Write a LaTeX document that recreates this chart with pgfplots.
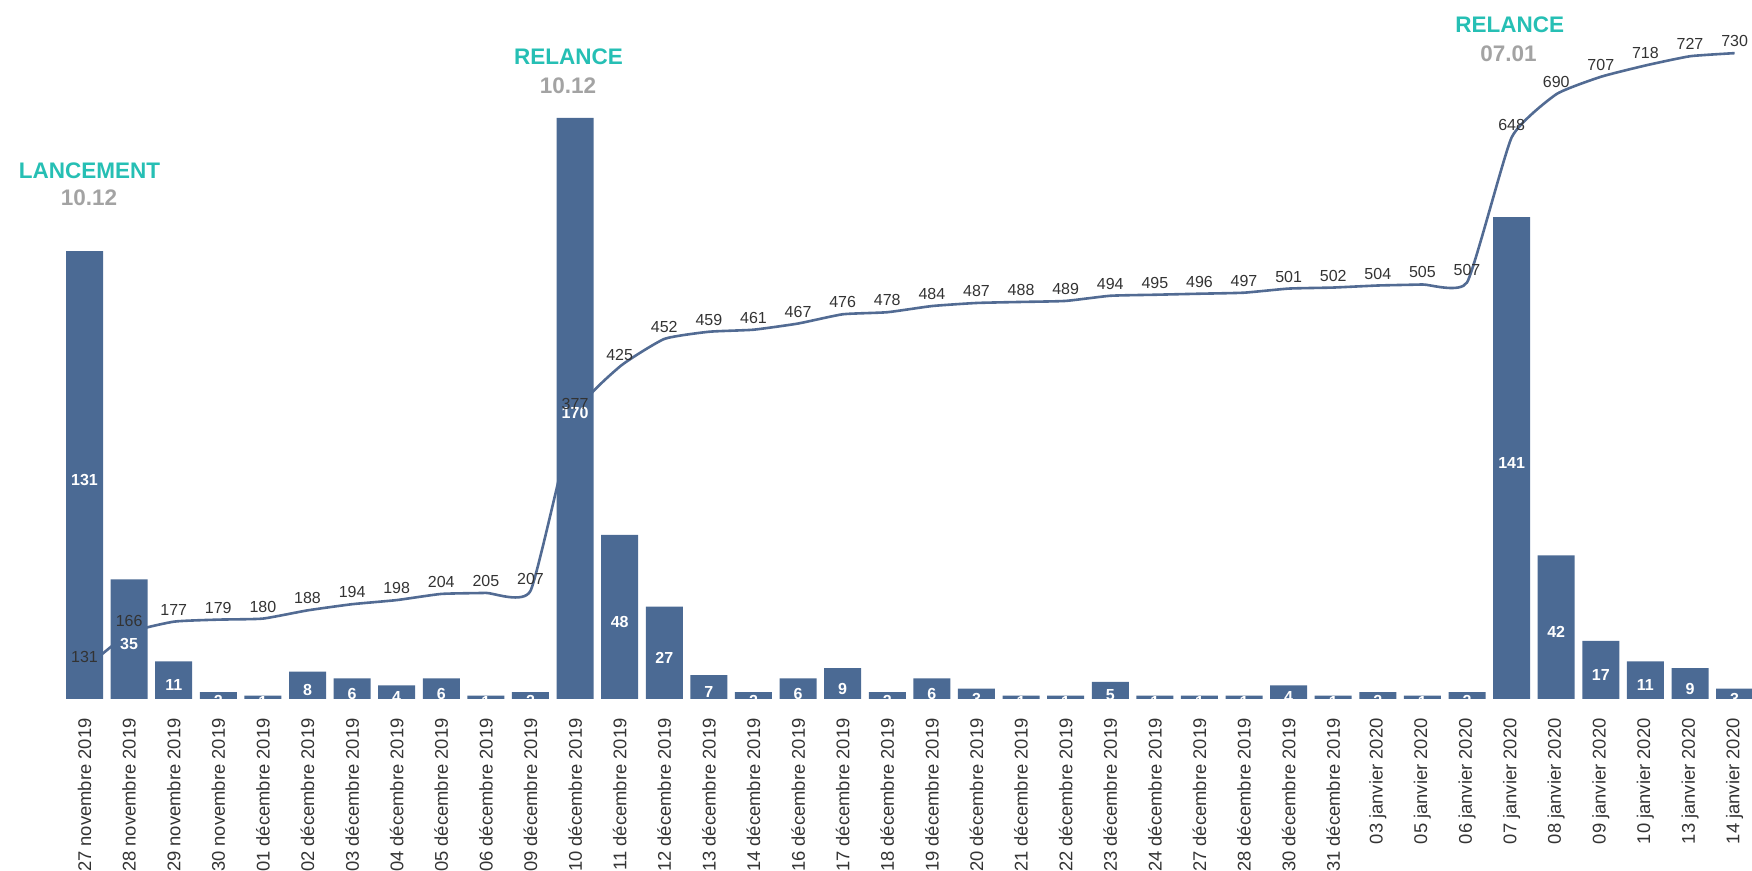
\documentclass[border=0pt]{standalone}
\usepackage{pgfplots}
\usepackage{pgfplotstable}
\pgfplotsset{compat=1.18}
\usepackage{fontspec}
\setmainfont{Liberation Sans}
\definecolor{barc}{HTML}{4B6A94}
\definecolor{linec}{HTML}{526B93}
\definecolor{tealc}{HTML}{26BFB4}
\definecolor{greyt}{HTML}{A3A3A3}
\definecolor{txt}{HTML}{333333}

\pgfplotstableread{
x d c
0 131 131
1 35 166
2 11 177
3 2 179
4 1 180
5 8 188
6 6 194
7 4 198
8 6 204
9 1 205
10 2 207
11 170 377
12 48 425
13 27 452
14 7 459
15 2 461
16 6 467
17 9 476
18 2 478
19 6 484
20 3 487
21 1 488
22 1 489
23 5 494
24 1 495
25 1 496
26 1 497
27 4 501
28 1 502
29 2 504
30 1 505
31 2 507
32 141 648
33 42 690
34 17 707
35 11 718
36 9 727
37 3 730
}\data

\pgfplotsset{
  base/.style={scale only axis, width=876pt, height=349.5pt,
    xmin=-1.895, xmax=37.39},
  lineax/.style={base, hide axis, ymin=101.8, ymax=781.7, clip=false},
}

\begin{document}
\begin{tikzpicture}
% cumulative line (behind bars)
\begin{axis}[lineax]
\addplot[linec, line width=1.3pt, smooth, tension=0.28, mark=none] table[x=x, y=c] {\data};
\end{axis}
% bars
\begin{axis}[base, ymin=0, ymax=204.5,
  axis line style={draw=none}, tick style={draw=none}, major tick length=0pt,
  ytick=\empty, xtick={0,...,37},
  xticklabels={27 novembre 2019,28 novembre 2019,29 novembre 2019,30 novembre 2019,01 décembre 2019,02 décembre 2019,03 décembre 2019,04 décembre 2019,05 décembre 2019,06 décembre 2019,09 décembre 2019,10 décembre 2019,11 décembre 2019,12 décembre 2019,13 décembre 2019,14 décembre 2019,16 décembre 2019,17 décembre 2019,18 décembre 2019,19 décembre 2019,20 décembre 2019,21 décembre 2019,22 décembre 2019,23 décembre 2019,24 décembre 2019,27 décembre 2019,28 décembre 2019,30 décembre 2019,31 décembre 2019,03 janvier 2020,05 janvier 2020,06 janvier 2020,07 janvier 2020,08 janvier 2020,09 janvier 2020,10 janvier 2020,13 janvier 2020,14 janvier 2020},
  xticklabel style={rotate=90, anchor=east, inner sep=0pt, font=\fontsize{9.2}{10}\selectfont, text=txt},
  xticklabel shift=9.5pt,
  clip=true]
\addplot[ybar, bar width=18.5pt, fill=barc, draw=none] table[x=x, y=d] {\data};
\addplot[draw=none, mark=none, nodes near coords={\pgfplotspointmeta}, point meta=explicit symbolic,
  every node near coord/.append style={white, font=\bfseries\fontsize{8}{9}\selectfont, anchor=center, yshift=-2.5pt, inner sep=0pt}]
  table[x=x, y expr=\thisrow{d}/2, meta=d] {\data};
\node[font=\bfseries\fontsize{11.25}{12}\selectfont, text=tealc] at (axis cs:0.11,154.5) {LANCEMENT};
\node[font=\bfseries\fontsize{11.25}{12}\selectfont, text=greyt] at (axis cs:0.1,146.6) {10.12};
\node[font=\bfseries\fontsize{11.25}{12}\selectfont, text=tealc] at (axis cs:10.85,188.0) {RELANCE};
\node[font=\bfseries\fontsize{11.25}{12}\selectfont, text=greyt] at (axis cs:10.84,179.3) {10.12};
\node[font=\bfseries\fontsize{11.25}{12}\selectfont, text=tealc] at (axis cs:31.96,197.3) {RELANCE};
\node[font=\bfseries\fontsize{11.25}{12}\selectfont, text=greyt] at (axis cs:31.93,188.7) {07.01};
\end{axis}
% line labels (on top)
\begin{axis}[lineax]
\addplot[draw=none, mark=none, nodes near coords={\pgfplotspointmeta}, point meta=explicit symbolic,
  every node near coord/.append style={text=txt, font=\fontsize{8}{9}\selectfont, anchor=center, yshift=6pt, inner sep=0pt}]
  table[x=x, y=c, meta=c] {\data};
\end{axis}
\pgfresetboundingbox
\path[use as bounding box] (0,-86pt) rectangle (876pt,349.5pt);
\end{tikzpicture}
\end{document}
